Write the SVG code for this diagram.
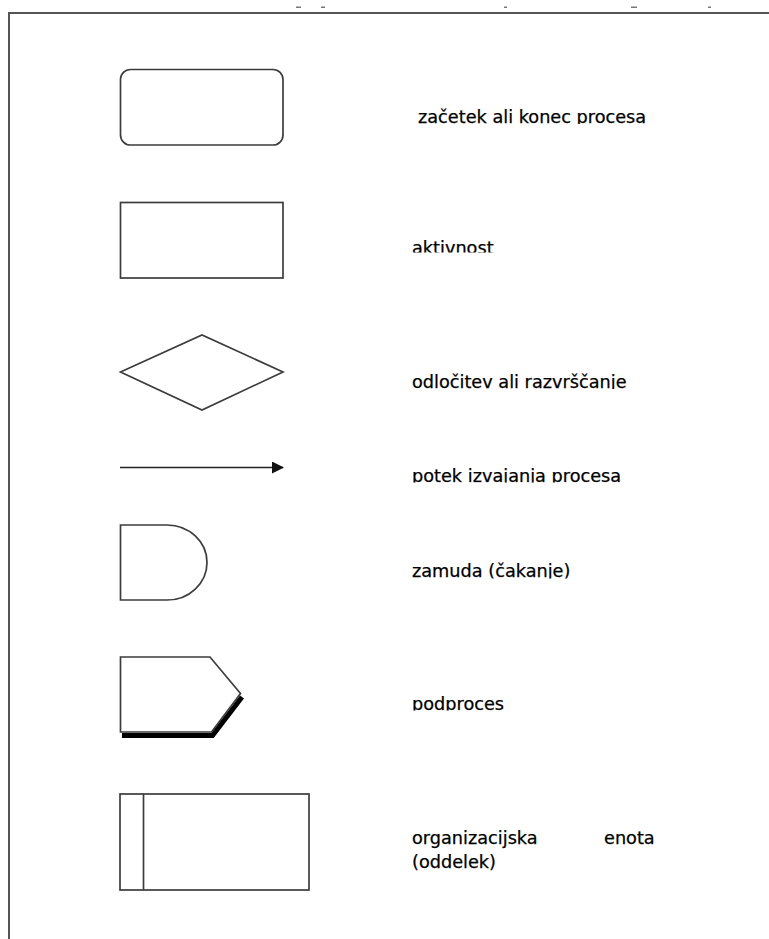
<svg xmlns="http://www.w3.org/2000/svg" width="769" height="939" viewBox="0 0 769 939">
  <style>
    .shape { fill: #ffffff; stroke: #3c3c3c; stroke-width: 1.7; }
    .line { fill: none; stroke: #222222; stroke-width: 1.5; }
    .label { font-family: "DejaVu Sans", Verdana, sans-serif; font-size: 17.7px; fill: #000000; stroke: #000000; stroke-width: 0.25; }
    .frame { stroke: #555555; stroke-width: 2; fill: none; }
    .tick { fill: #777777; }
  </style>
  <defs>
    <marker id="arrowhead" viewBox="0 0 12 12" refX="11" refY="6" markerWidth="12" markerHeight="12" markerUnits="userSpaceOnUse" orient="auto">
      <path d="M0,0 L12,6 L0,12 Z" fill="#111111"/>
    </marker>
    <!-- text rows are cut off along their lower edge -->
    <clipPath id="cut1"><rect x="400" y="90" width="300" height="34"/></clipPath>
    <clipPath id="cut2"><rect x="400" y="220" width="300" height="32.5"/></clipPath>
    <clipPath id="cut3"><rect x="400" y="350" width="300" height="39"/></clipPath>
    <clipPath id="cut4"><rect x="400" y="450" width="300" height="32.5"/></clipPath>
    <clipPath id="cut5"><rect x="400" y="540" width="300" height="38.5"/></clipPath>
    <clipPath id="cut6"><rect x="400" y="680" width="300" height="30.5"/></clipPath>
  </defs>

  <!-- page frame -->
  <g id="page">
    <path class="frame" d="M9,939 L9,13 L769,13"/>
    <rect class="tick" x="296" y="6.5" width="5" height="1.5"/>
    <rect class="tick" x="321" y="6.5" width="4" height="1.5"/>
    <rect class="tick" x="504" y="6.5" width="3" height="1.5"/>
    <rect class="tick" x="631" y="6.5" width="6" height="1.5"/>
    <rect class="tick" x="708" y="6.5" width="3" height="1.5"/>
  </g>

  <!-- start / end -->
  <g id="terminator">
    <rect class="shape" x="120.5" y="69.5" width="162.5" height="75.5" rx="10" ry="10"/>
    <text class="label" x="418" y="123" clip-path="url(#cut1)">začetek ali konec procesa</text>
  </g>

  <!-- activity -->
  <g id="activity">
    <rect class="shape" x="120.5" y="202.5" width="162.5" height="75.5"/>
    <text class="label" x="412" y="254" clip-path="url(#cut2)">aktivnost</text>
  </g>

  <!-- decision -->
  <g id="decision">
    <polygon class="shape" points="120.5,372 202,335 283,372 202,410"/>
    <text class="label" x="412" y="388" clip-path="url(#cut3)">odločitev ali razvrščanje</text>
  </g>

  <!-- flow -->
  <g id="connectors">
    <line class="line" x1="120" y1="467.5" x2="283" y2="467.5" marker-end="url(#arrowhead)"/>
  </g>
  <g id="flow">
    <text class="label" x="412" y="481.5" clip-path="url(#cut4)">potek izvajanja procesa</text>
  </g>

  <!-- delay -->
  <g id="delay">
    <path class="shape" d="M120.5,525 L167,525 A40,37.5 0 0 1 167,600 L120.5,600 Z"/>
    <text class="label" x="412" y="577" clip-path="url(#cut5)">zamuda (čakanje)</text>
  </g>

  <!-- subprocess -->
  <g id="subprocess">
    <polyline points="122,735.5 212.5,735.5 242,697" fill="none" stroke="#000000" stroke-width="5" stroke-linejoin="miter"/>
    <polygon class="shape" points="120.5,657 210,657 240.5,693.5 211.5,732 120.5,732"/>
    <text class="label" x="412" y="709.5" clip-path="url(#cut6)">podproces</text>
  </g>

  <!-- organisational unit -->
  <g id="unit">
    <rect class="shape" x="120" y="794" width="189" height="96"/>
    <line class="shape" x1="143.5" y1="794" x2="143.5" y2="890"/>
    <text class="label" x="412" y="844">organizacijska</text>
    <text class="label" x="604" y="844">enota</text>
    <text class="label" x="412" y="868">(oddelek)</text>
  </g>
</svg>
